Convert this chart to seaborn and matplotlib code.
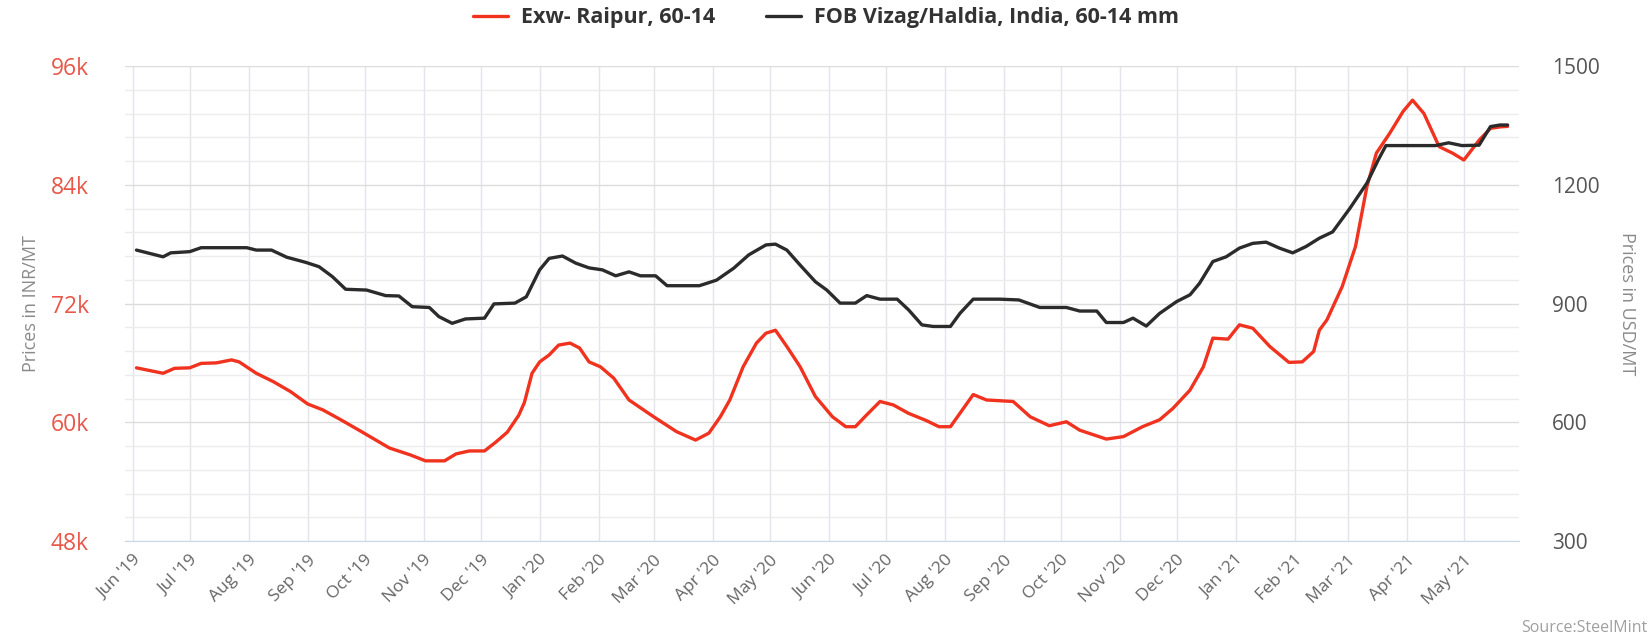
import numpy as np
import pandas as pd
import matplotlib
matplotlib.use("Agg")
import matplotlib.pyplot as plt
import matplotlib.dates as mdates
from matplotlib.ticker import MultipleLocator, FuncFormatter
import seaborn as sns

# days counted from 1 Jun 2019
red_days = [2, 16, 22, 30, 36, 44, 52, 56, 65, 74, 83, 92, 100, 109, 119, 135, 146, 154, 164,
            170, 177, 185, 191, 197, 203, 206, 210, 214, 219, 224, 230, 235, 240, 246, 253, 261,
            274, 286, 296, 303, 309, 314, 321, 328, 333, 338, 344, 351, 359, 368, 375, 380, 386,
            393, 400, 408, 417, 424, 430, 435, 442, 449, 463, 472, 482, 491, 498, 512, 521, 531,
            540, 547, 556, 563, 568, 576, 582, 589, 598, 608, 615, 621, 624, 628, 636, 643, 649,
            654, 661, 668, 673, 679, 687, 694, 700, 708, 714, 719, 723]
red_inr = [65500, 64950, 65450, 65500, 65950, 66000, 66300, 66100, 64950, 64100, 63100, 61850,
           61250, 60300, 59200, 57400, 56700, 56100, 56100, 56800, 57100, 57100, 58000, 59000,
           60700, 62000, 64950, 66100, 66800, 67800, 68000, 67500, 66100, 65600, 64450, 62250,
           60550, 59050, 58200, 58900, 60550, 62250, 65600, 68000, 69000, 69300, 67650, 65600,
           62600, 60550, 59550, 59550, 60750, 62100, 61750, 60900, 60200, 59550, 59550, 60900,
           62800, 62250, 62100, 60550, 59650, 60050, 59200, 58300, 58550, 59550, 60250, 61400,
           63250, 65600, 68500, 68400, 69850, 69500, 67650, 66050, 66100, 67150, 69300, 70350,
           73700, 77750, 83800, 87200, 89200, 91400, 92550, 91200, 87850, 87200, 86500, 88500,
           89700, 89850, 89900]

black_days = [2, 16, 20, 30, 36, 60, 65, 73, 81, 91, 98, 105, 112, 123, 133, 140, 147, 156, 161,
              168, 175, 185, 190, 201, 207, 214, 219, 226, 233, 240, 247, 254, 261, 267, 275, 281,
              298, 307, 316, 324, 333, 338, 344, 351, 359, 365, 372, 380, 386, 393, 402, 408, 415,
              421, 430, 435, 442, 456, 466, 477, 491, 498, 507, 512, 521, 526, 533, 540, 549, 556,
              561, 568, 575, 582, 589, 596, 603, 610, 617, 624, 631, 640, 649, 655, 659, 685, 692,
              699, 708, 714, 719, 723]
black_usd = [1035, 1018, 1028, 1031, 1041, 1041, 1035, 1035, 1017, 1004, 993, 968, 936, 934, 920,
             919, 892, 890, 867, 850, 861, 863, 899, 901, 917, 985, 1014, 1020, 1002, 990, 985,
             970, 980, 970, 970, 945, 945, 959, 989, 1023, 1048, 1050, 1035, 997, 955, 934, 901,
             901, 920, 911, 911, 884, 846, 842, 842, 875, 911, 911, 909, 890, 890, 881, 881, 852,
             852, 863, 843, 875, 905, 922, 951, 1006, 1018, 1040, 1052, 1055, 1040, 1028, 1044,
             1065, 1081, 1140, 1204, 1263, 1299, 1299, 1306, 1299, 1300, 1347, 1351, 1351]

red_name = "Exw- Raipur, 60-14"
black_name = "FOB Vizag/Haldia, India, 60-14 mm"

start = pd.Timestamp("2019-06-01")
red_df = pd.DataFrame({"date": start + pd.to_timedelta(red_days, unit="D"), "price": red_inr})
black_df = pd.DataFrame({"date": start + pd.to_timedelta(black_days, unit="D"), "price": black_usd})

sns.set_style("white")
plt.rcParams["font.family"] = ["Open Sans", "DejaVu Sans"]

RED = "#f0321f"
BLACK = "#2b2b2b"

fig = plt.figure(figsize=(16.52, 6.41), dpi=100)
ax = fig.add_axes([0.0757, 0.156, 0.8438, 0.741])
ax2 = ax.twinx()

sns.lineplot(data=red_df, x="date", y="price", ax=ax, color=RED, linewidth=2.4, label=red_name, legend=False)
sns.lineplot(data=black_df, x="date", y="price", ax=ax2, color=BLACK, linewidth=2.4, label=black_name, legend=False)

ax.set_ylim(48000, 96000)
ax.yaxis.set_major_locator(MultipleLocator(12000))
ax.yaxis.set_minor_locator(MultipleLocator(2400))
ax.yaxis.set_major_formatter(FuncFormatter(lambda v, p: f"{int(v/1000)}k"))
ax2.set_ylim(300, 1500)
ax2.yaxis.set_major_locator(MultipleLocator(300))

ax.set_xlim(start - pd.Timedelta(days=4), start + pd.Timedelta(days=729))
ax.xaxis.set_major_locator(mdates.MonthLocator())
ax.xaxis.set_major_formatter(mdates.DateFormatter("%b '%y"))

ax.grid(which="major", axis="y", color="#dcdcdc", linewidth=1)
ax.grid(which="minor", axis="y", color="#ececec", linewidth=1)
ax.grid(which="major", axis="x", color="#e3e5ec", linewidth=1)
ax.set_axisbelow(True)

for a in (ax, ax2):
    for s in a.spines.values():
        s.set_visible(False)
ax.spines["bottom"].set_visible(True)
ax.spines["bottom"].set_color("#ccd6eb")

ax.tick_params(axis="x", which="major", length=6, color="#ccd6eb", labelsize=12.5, labelcolor="#666666", pad=2)
plt.setp(ax.get_xticklabels(), rotation=45, ha="right", rotation_mode="anchor")
ax.tick_params(axis="y", which="both", length=0, labelsize=16.5, labelcolor="#e8574a", pad=26)
ax2.tick_params(axis="y", length=0, labelsize=15, labelcolor="#555555", pad=24)

ax.set_xlabel("")
ax.set_ylabel("Prices in INR/MT", fontsize=13, color="#8a8a8a", labelpad=8)
ax2.set_ylabel("Prices in USD/MT", fontsize=13, color="#8a8a8a", rotation=270, labelpad=26)

h1, l1 = ax.get_legend_handles_labels()
h2, l2 = ax2.get_legend_handles_labels()
fig.legend(h1 + h2, l1 + l2, loc="center", bbox_to_anchor=(0.5, 0.972), ncol=2, frameon=False,
           prop={"weight": "bold", "size": 15.5}, labelcolor="#333333", handlelength=1.6,
           columnspacing=2.4, handletextpad=0.6)

fig.text(0.997, 0.02, "Source:SteelMint", ha="right", va="center", fontsize=11.5, color="#a0a0a0")

fig.savefig("out.png", dpi=100)
